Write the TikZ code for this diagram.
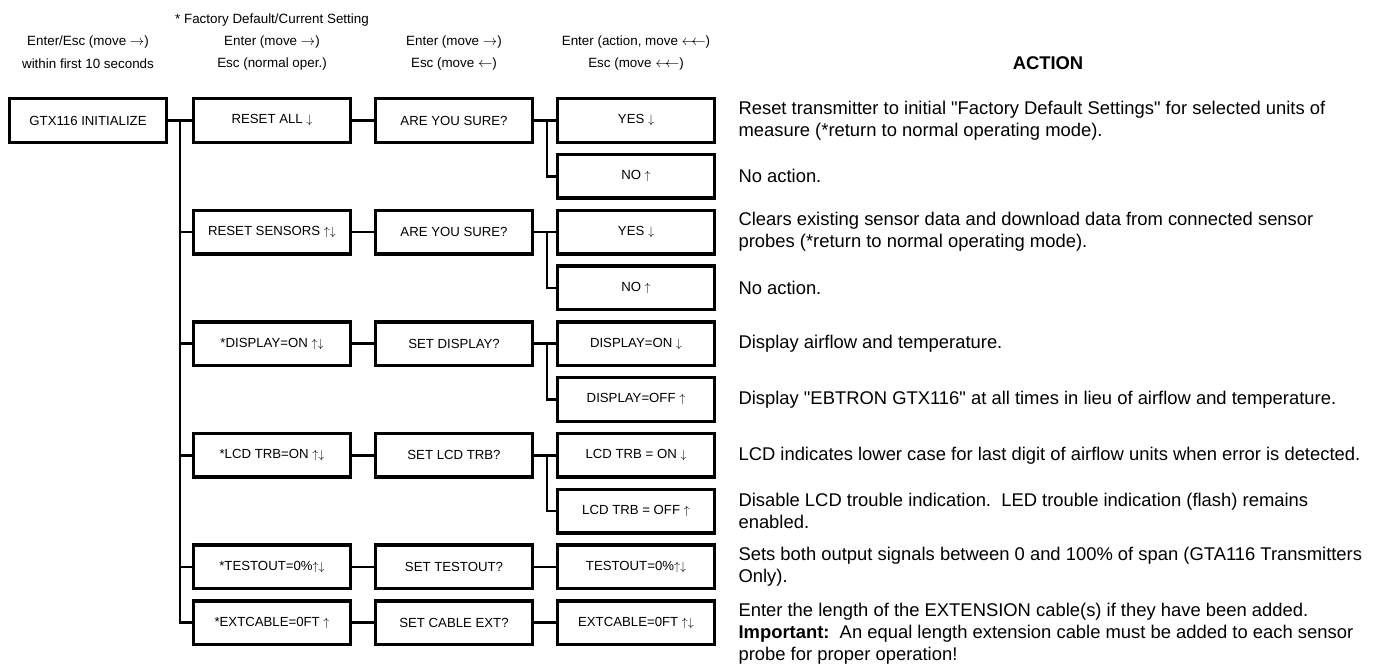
\documentclass[tikz,border=0pt]{standalone}
\usepackage{fontspec}
\setmainfont{Liberation Sans}
\newfontfamily\actfont{Liberation Sans}
\begin{document}
\begin{tikzpicture}[x=1pt,y=-1pt,
    menu/.style={draw,line width=3.4pt,minimum width=156.6pt,minimum height=43.6pt,
      inner sep=1pt,font=\fontsize{13.2}{15}\selectfont},
    head/.style={font=\fontsize{13.4}{16}\selectfont},
    act/.style={anchor=west,align=left,font=\actfont\fontsize{18.4}{22}\selectfont},
    wire/.style={line width=2.6pt}]
  \useasboundingbox (0,0) rectangle (1375,668);
  % headings
  \draw
    (272,20) node[head] (star){* Factory Default/Current Setting}
    (88,42) node[head] (h0){Enter/Esc (move $\rightarrow$)}
    (88,64) node[head] (k0){within first 10 seconds}
    (272,42) node[head] (h1){Enter (move $\rightarrow$)}
    (272,64) node[head] (k1){Esc (normal oper.)}
    (454,42) node[head] (h2){Enter (move $\rightarrow$)}
    (454,64) node[head] (k2){Esc (move $\leftarrow$)}
    (636,42) node[head] (h3){Enter (action, move $\leftarrow\!\!\leftarrow$)}
    (636,64) node[head] (k3){Esc (move $\leftarrow\!\!\leftarrow$)}
    (1048,63) node[font=\fontsize{18.4}{22}\selectfont\bfseries] (action){ACTION};
  % menu boxes
  \draw
    (88,120.5) node[menu] (init){GTX116 INITIALIZE}
    (272,120.5) node[menu] (a0){RESET ALL $\downarrow$}
    (272,232.1) node[menu] (a2){RESET SENSORS $\uparrow\downarrow$}
    (272,343.7) node[menu] (a4){*DISPLAY=ON $\uparrow\downarrow$}
    (272,455.3) node[menu] (a6){*LCD TRB=ON $\uparrow\downarrow$}
    (272,566.9) node[menu] (a8){*TESTOUT=0\%$\uparrow\downarrow$}
    (272,622.7) node[menu] (a9){*EXTCABLE=0FT $\uparrow$}
    (454,120.5) node[menu] (b0){ARE YOU SURE?}
    (454,232.1) node[menu] (b2){ARE YOU SURE?}
    (454,343.7) node[menu] (b4){SET DISPLAY?}
    (454,455.3) node[menu] (b6){SET LCD TRB?}
    (454,566.9) node[menu] (b8){SET TESTOUT?}
    (454,622.7) node[menu] (b9){SET CABLE EXT?}
    (636,120.5) node[menu] (c0){YES $\downarrow$}
    (636,176.3) node[menu] (c1){NO $\uparrow$}
    (636,232.1) node[menu] (c2){YES $\downarrow$}
    (636,287.9) node[menu] (c3){NO $\uparrow$}
    (636,343.7) node[menu] (c4){DISPLAY=ON $\downarrow$}
    (636,399.5) node[menu] (c5){DISPLAY=OFF $\uparrow$}
    (636,455.3) node[menu] (c6){LCD TRB = ON $\downarrow$}
    (636,511.1) node[menu] (c7){LCD TRB = OFF $\uparrow$}
    (636,566.9) node[menu] (c8){TESTOUT=0\%$\uparrow\downarrow$}
    (636,622.7) node[menu] (c9){EXTCABLE=0FT $\uparrow\downarrow$};
  % actions
  \draw
    (735,120.5) node[act] (t0){Reset transmitter to initial "Factory Default Settings" for selected units of\\measure (*return to normal operating mode).}
    (735,176.3) node[act] (t1){No action.}
    (735,232.1) node[act] (t2){Clears existing sensor data and download data from connected sensor\\probes (*return to normal operating mode).}
    (735,287.9) node[act] (t3){No action.}
    (735,343.7) node[act] (t4){Display airflow and temperature.}
    (735,399.5) node[act] (t5){Display "EBTRON GTX116" at all times in lieu of airflow and temperature.}
    (735,455.3) node[act] (t6){LCD indicates lower case for last digit of airflow units when error is detected.}
    (735,511.1) node[act] (t7){Disable LCD trouble indication.\ \ LED trouble indication (flash) remains\\enabled.}
    (735,566.9) node[act] (t8){Sets both output signals between 0 and 100\% of span (GTA116 Transmitters\\Only).}
    (735,633.7) node[act] (t9){Enter the length of the EXTENSION cable(s) if they have been added.\\\textbf{Important:}\ \ An equal length extension cable must be added to each sensor\\probe for proper operation!};
  \begin{scope}[wire]
    \coordinate (trunk) at (180,120.5);
    \draw (init) to (a0);
    \draw (trunk) |- (a2.west);
    \draw (trunk) |- (a4.west);
    \draw (trunk) |- (a6.west);
    \draw (trunk) |- (a8.west);
    \draw (trunk) |- (a9.west);
    \draw (a0) to (b0);
    \draw (a2) to (b2);
    \draw (a4) to (b4);
    \draw (a6) to (b6);
    \draw (a8) to (b8);
    \draw (a9) to (b9);
    \draw (b0) to (c0);
    \draw (b0.east) -- ++(13,0) |- (c1.west);
    \draw (b2) to (c2);
    \draw (b2.east) -- ++(13,0) |- (c3.west);
    \draw (b4) to (c4);
    \draw (b4.east) -- ++(13,0) |- (c5.west);
    \draw (b6) to (c6);
    \draw (b6.east) -- ++(13,0) |- (c7.west);
    \draw (b8) to (c8);
    \draw (b9) to (c9);
  \end{scope}
\end{tikzpicture}
\end{document}
